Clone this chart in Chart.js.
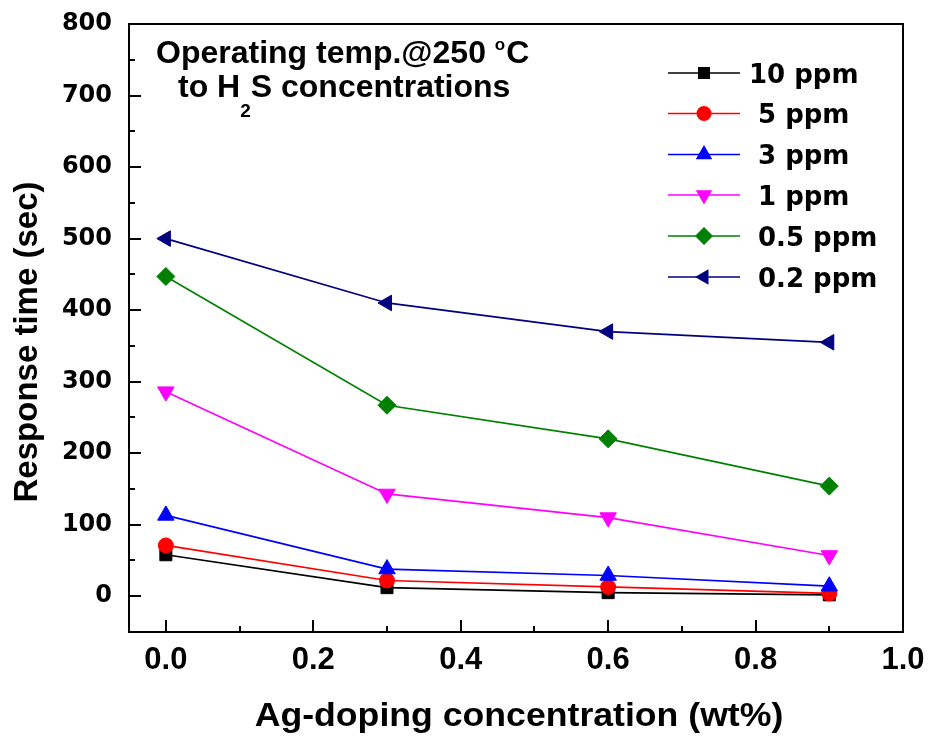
<!DOCTYPE html>
<html>
<head>
<meta charset="utf-8">
<script src="https://cdn.jsdelivr.net/npm/chart.js@4.4.1/dist/chart.umd.min.js"></script>
<style>
  html, body { margin: 0; padding: 0; background: #ffffff; }
  #wrap { width: 930px; height: 739px; position: relative; }
</style>
</head>
<body>
<div id="wrap"><canvas id="chart"></canvas></div>
<script>
// Ag-doping concentration (wt%)
const dopingLevels = [0.0, 0.3, 0.6, 0.9];

// Response time (sec) for each H2S concentration
const resp10ppm  = [58, 12, 5, 2];
const resp5ppm   = [71, 22, 13, 4];
const resp3ppm   = [113, 38, 29, 14];
const resp1ppm   = [286, 143, 110, 57];
const resp05ppm  = [447, 267, 220, 154];
const resp02ppm  = [500, 410, 370, 355];

const seriesLabels = ['10 ppm', '5 ppm', '3 ppm', '1 ppm', '0.5 ppm', '0.2 ppm'];

// Axis tick labels
const xTickValues = [0.0, 0.2, 0.4, 0.6, 0.8, 1.0];
const yTickValues = [0, 100, 200, 300, 400, 500, 600, 700, 800];

const seriesStyles = [
  { color: '#000000', point: 'rect',     radius: 8.5, rotation: 0 },
  { color: '#ff0000', point: 'circle',   radius: 7.5, rotation: 0 },
  { color: '#0000ff', point: 'triangle', radius: 9.5, rotation: 0 },
  { color: '#ff00ff', point: 'triangle', radius: 9.5, rotation: 180 },
  { color: '#008000', point: 'rectRot',  radius: 9,   rotation: 0 },
  { color: '#000080', point: 'triangle', radius: 9,   rotation: 270 }
];

const seriesValues = [resp10ppm, resp5ppm, resp3ppm, resp1ppm, resp05ppm, resp02ppm];

const datasets = seriesValues.map((vals, i) => {
  const s = seriesStyles[i];
  return {
    label: seriesLabels[i],
    data: vals.map((v, j) => ({ x: dopingLevels[j], y: v })),
    borderColor: s.color,
    backgroundColor: s.color,
    borderWidth: 1.7,
    pointStyle: s.point,
    pointRadius: s.radius,
    pointHoverRadius: s.radius,
    pointRotation: s.rotation,
    pointBorderWidth: 1,
    tension: 0,
    fill: false,
    order: seriesValues.length - i,
    clip: false
  };
});

// Draws a legend marker in the same shapes the datasets use
function drawMarker(ctx, style, x, y) {
  const r = style.radius;
  ctx.save();
  ctx.translate(x, y);
  ctx.rotate(style.rotation * Math.PI / 180);
  ctx.fillStyle = style.color;
  ctx.beginPath();
  if (style.point === 'circle') {
    ctx.arc(0, 0, r, 0, Math.PI * 2);
  } else if (style.point === 'rect') {
    const h = r / Math.SQRT2;
    ctx.rect(-h, -h, 2 * h, 2 * h);
  } else if (style.point === 'rectRot') {
    ctx.moveTo(0, -r); ctx.lineTo(r, 0); ctx.lineTo(0, r); ctx.lineTo(-r, 0);
  } else if (style.point === 'triangle') {
    for (let k = 0; k < 3; k++) {
      const a = -Math.PI / 2 + k * 2 * Math.PI / 3;
      const px = Math.cos(a) * r, py = Math.sin(a) * r;
      if (k === 0) ctx.moveTo(px, py); else ctx.lineTo(px, py);
    }
  }
  ctx.closePath();
  ctx.fill();
  ctx.restore();
}

const frameAndDecor = {
  id: 'frameAndDecor',
  afterDraw(chart) {
    const ctx = chart.ctx;
    const area = chart.chartArea;
    const xs = chart.scales.x, ys = chart.scales.y;

    ctx.save();
    ctx.strokeStyle = '#000000';
    ctx.lineWidth = 2;
    ctx.lineCap = 'butt';

    // inward tick marks, major and minor
    ctx.beginPath();
    for (let v = 0; v <= 1.0001; v += 0.1) {
      const px = Math.round(xs.getPixelForValue(v));
      const major = Math.round(v * 10) % 2 === 0;
      const len = major ? 12 : 6;
      ctx.moveTo(px, area.bottom);
      ctx.lineTo(px, area.bottom - len);
    }
    for (let v = 0; v <= 800; v += 50) {
      const py = Math.round(ys.getPixelForValue(v));
      const major = v % 100 === 0;
      const len = major ? 12 : 6;
      ctx.moveTo(area.left, py);
      ctx.lineTo(area.left + len, py);
    }
    ctx.stroke();

    // frame
    ctx.strokeRect(area.left, area.top, area.right - area.left, area.bottom - area.top);

    // axis titles
    ctx.fillStyle = '#000000';
    ctx.textAlign = 'center';
    ctx.textBaseline = 'middle';
    ctx.font = 'bold 33px "Liberation Sans", Arial, sans-serif';
    ctx.save();
    ctx.translate((area.left + area.right) / 2 + 3, 717);
    ctx.scale(1.08, 1);
    ctx.fillText('Ag-doping concentration (wt%)', 0, 0);
    ctx.restore();
    ctx.save();
    ctx.translate(28, 342);
    ctx.rotate(-Math.PI / 2);
    ctx.fillText('Response time (sec)', 0, 0);
    ctx.restore();

    // annotation text
    ctx.textAlign = 'left';
    ctx.textBaseline = 'alphabetic';
    const mainFont = 'bold 32px "Liberation Sans", Arial, sans-serif';
    const smallFont = 'bold 19px "Liberation Sans", Arial, sans-serif';
    let tx = 156;
    ctx.font = mainFont;
    const l1 = 'Operating temp.@250 ';
    ctx.fillText(l1, tx, 63);
    tx += ctx.measureText(l1).width;
    ctx.font = 'bold 17px "Liberation Sans", Arial, sans-serif';
    ctx.fillText('o', tx, 50);
    tx += ctx.measureText('o').width + 1;
    ctx.font = mainFont;
    ctx.fillText('C', tx, 63);

    tx = 178;
    const l2a = 'to H';
    ctx.fillText(l2a, tx, 97);
    tx += ctx.measureText(l2a).width;
    ctx.font = smallFont;
    ctx.fillText('2', tx, 117);
    tx += ctx.measureText('2').width;
    ctx.font = mainFont;
    ctx.fillText('S concentrations', tx, 97);

    // legend
    const rowY = [73, 113.5, 154.5, 195, 236, 277];
    const textX = [749, 758, 758, 758, 758, 758];
    ctx.font = 'bold 26px "DejaVu Sans", sans-serif';
    seriesLabels.forEach((lab, i) => {
      const st = seriesStyles[i];
      const y = rowY[i];
      ctx.strokeStyle = st.color;
      ctx.lineWidth = 1.7;
      ctx.beginPath();
      ctx.moveTo(668, y);
      ctx.lineTo(740, y);
      ctx.stroke();
      drawMarker(ctx, st, 704, y);
      ctx.fillStyle = '#000000';
      ctx.fillText(lab, textX[i], y + 9.5);
    });
    ctx.restore();
  }
};

new Chart(document.getElementById('chart'), {
  type: 'line',
  data: { datasets },
  options: {
    responsive: true,
    maintainAspectRatio: false,
    devicePixelRatio: 1,
    animation: false,
    events: [],
    layout: { padding: { top: 24, right: 27, left: 0, bottom: 0 } },
    plugins: {
      legend: { display: false },
      tooltip: { enabled: false },
      title: { display: false }
    },
    scales: {
      x: {
        type: 'linear',
        min: -0.05,
        max: 1.0,
        afterBuildTicks(scale) {
          scale.ticks = xTickValues.map(v => ({ value: v }));
        },
        afterFit(scale) {
          scale.height = 107;
          scale.paddingLeft = 0;
          scale.paddingRight = 0;
        },
        grid: { display: false, drawTicks: false },
        border: { display: false },
        ticks: {
          padding: 13,
          color: '#000000',
          maxRotation: 0,
          autoSkip: false,
          font: { family: '"Liberation Sans", Arial, sans-serif', size: 31, weight: 'bold', lineHeight: 1 },
          callback: v => Number(v).toFixed(1)
        }
      },
      y: {
        type: 'linear',
        min: -50,
        max: 800,
        afterBuildTicks(scale) {
          scale.ticks = yTickValues.map(v => ({ value: v }));
        },
        afterFit(scale) {
          scale.width = 129;
          scale.paddingTop = 0;
          scale.paddingBottom = 0;
        },
        grid: { display: false, drawTicks: false },
        border: { display: false },
        ticks: {
          padding: 17,
          color: '#000000',
          autoSkip: false,
          font: { family: '"DejaVu Sans", sans-serif', size: 24, weight: 'bold', lineHeight: 1 },
          callback: v => String(v)
        }
      }
    }
  },
  plugins: [frameAndDecor]
});
</script>
</body>
</html>
